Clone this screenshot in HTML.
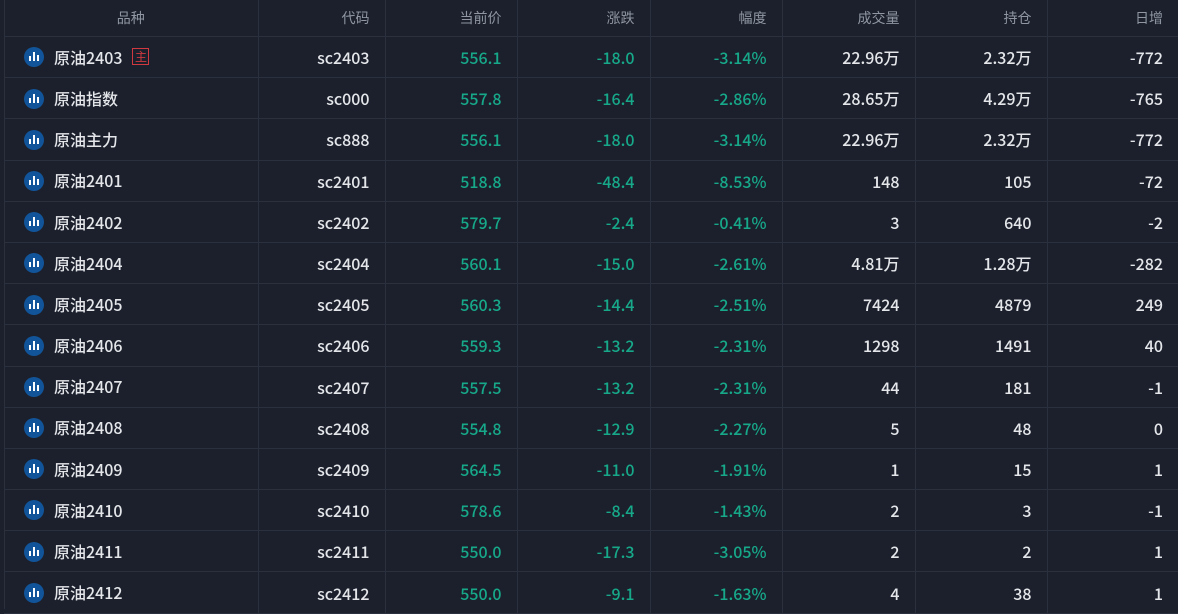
<!DOCTYPE html>
<html><head><meta charset="utf-8"><style>
html,body{margin:0;padding:0;background:#1b202c;width:1178px;height:609px;overflow:hidden}
body{font-family:"Liberation Sans","Noto Sans CJK SC",sans-serif}
table{border-collapse:collapse;table-layout:fixed;position:absolute;left:4px;top:0;width:1174px}
td,th{border-right:1px solid #2a303d;border-bottom:1px solid #2a303d;text-align:right;padding:0 15px 0 0;font-size:16px;color:#e4e6ea;white-space:nowrap;font-weight:500;font-family:"Noto Sans CJK SC",sans-serif}
th{height:36px;font-size:14px;color:#9097a2;font-weight:normal}
th:first-child{text-align:center;padding:0}
td{height:40.2px}
tr td:last-child,tr th:last-child{border-right:none}
td.n{text-align:left;padding-left:20px}
.g{color:#17a88a}
.ic{display:inline-block;width:20px;height:20px;border-radius:50%;background:#125499;vertical-align:middle;margin-right:10px;position:relative;top:-2px}
.ic i{position:absolute;bottom:6px;width:2px;background:#fff}
.tag{display:inline-block;border:1px solid #d0393f;color:#d0393f;font-size:12px;line-height:15px;width:15px;height:15px;text-align:center;margin-left:10px;vertical-align:middle;position:relative;top:-3px;font-weight:normal}
.lb{position:absolute;left:4px;top:0;width:1px;height:609px;background:#2a303d}
</style></head><body>
<div class="lb"></div>
<table>
<colgroup><col style="width:254px"><col style="width:127px"><col style="width:132px"><col style="width:133px"><col style="width:132px"><col style="width:133px"><col style="width:132px"><col style="width:131px"></colgroup>
<tr><th>品种</th><th>代码</th><th>当前价</th><th>涨跌</th><th>幅度</th><th>成交量</th><th>持仓</th><th>日增</th></tr>
</table>
<script>
const rows=[["原油2403",1,"sc2403","556.1","-18.0","-3.14%","22.96万","2.32万","-772"],
["原油指数",0,"sc000","557.8","-16.4","-2.86%","28.65万","4.29万","-765"],
["原油主力",0,"sc888","556.1","-18.0","-3.14%","22.96万","2.32万","-772"],
["原油2401",0,"sc2401","518.8","-48.4","-8.53%","148","105","-72"],
["原油2402",0,"sc2402","579.7","-2.4","-0.41%","3","640","-2"],
["原油2404",0,"sc2404","560.1","-15.0","-2.61%","4.81万","1.28万","-282"],
["原油2405",0,"sc2405","560.3","-14.4","-2.51%","7424","4879","249"],
["原油2406",0,"sc2406","559.3","-13.2","-2.31%","1298","1491","40"],
["原油2407",0,"sc2407","557.5","-13.2","-2.31%","44","181","-1"],
["原油2408",0,"sc2408","554.8","-12.9","-2.27%","5","48","0"],
["原油2409",0,"sc2409","564.5","-11.0","-1.91%","1","15","1"],
["原油2410",0,"sc2410","578.6","-8.4","-1.43%","2","3","-1"],
["原油2411",0,"sc2411","550.0","-17.3","-3.05%","2","2","1"],
["原油2412",0,"sc2412","550.0","-9.1","-1.63%","4","38","1"]];
const t=document.querySelector("table");let h="";
const ic='<span class="ic"><i style="left:5px;height:5px"></i><i style="left:9px;height:9px"></i><i style="left:13px;height:6px"></i></span>';
for(const r of rows){h+=`<tr><td class="n">${ic}${r[0]}${r[1]?'<span class="tag">主</span>':''}</td><td>${r[2]}</td><td class="g">${r[3]}</td><td class="g">${r[4]}</td><td class="g">${r[5]}</td><td>${r[6]}</td><td>${r[7]}</td><td>${r[8]}</td></tr>`}
t.insertAdjacentHTML("beforeend",h);
</script>
</body></html>
